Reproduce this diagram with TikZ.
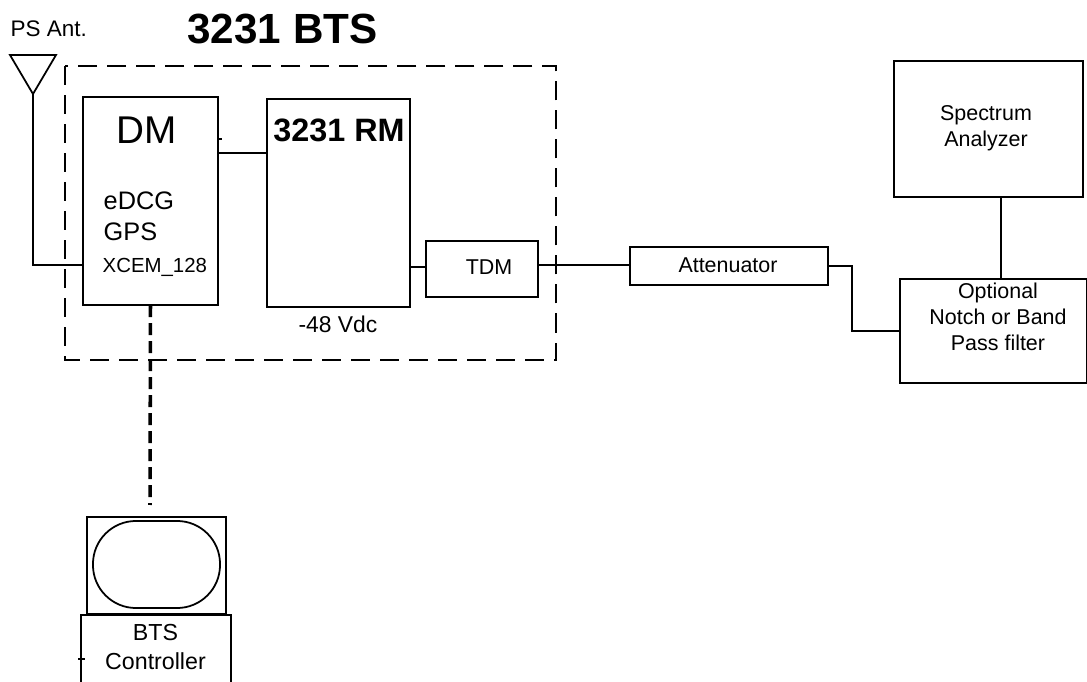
\documentclass[tikz,border=0pt]{standalone}
\usepackage{fontspec}
\setmainfont{Liberation Sans}
\tikzset{
  boxnode/.style={draw,line width=0.5pt,inner sep=0pt,outer sep=0pt},
  wire/.style={line width=0.5pt},
  lab/.style={inner sep=0pt,align=center,font=\fontsize{6.1}{7.4}\selectfont},
}
\begin{document}
\begin{tikzpicture}[x=0.01cm,y=-0.01cm]
\useasboundingbox (0,0) rectangle (1087,682);
\draw[line width=0.6pt,dash pattern=on 0.19cm off 0.1cm] (65,66) rectangle (556,360);
\node[boxnode,minimum width=1.35cm,minimum height=2.08cm] (dm) at (150.5,201) {};
\node[boxnode,minimum width=1.43cm,minimum height=2.08cm] (rm) at (338.5,203) {};
\node[boxnode,minimum width=1.12cm,minimum height=0.56cm] (tdm) at (482,269) {};
\node[boxnode,minimum width=1.98cm,minimum height=0.38cm] (att) at (729,266) {};
\node[boxnode,minimum width=1.87cm,minimum height=1.04cm] (filter) at (993.5,331) {};
\node[boxnode,minimum width=1.89cm,minimum height=1.36cm] (sa) at (988.5,129) {};
\node[boxnode,minimum width=1.39cm,minimum height=0.97cm] (mon) at (156.5,565.5) {};
\node[boxnode,rounded corners=0.43cm,minimum width=1.27cm,minimum height=0.87cm] (screen) at (156.5,564.5) {};
\draw[wire] (81,682) |- (231,615) -- (231,682);
\draw[wire] (78,659) -- (85,659);
\coordinate (antl) at (10,55);
\coordinate (antr) at (56,55);
\coordinate (antp) at (33,94);
\draw[wire] (antl) -- (antr) -- (antp) -- cycle;
\fill (antp) circle (0.025);
\coordinate (dmin) at (83,265);
\draw[wire] (antp) |- (dmin);
\coordinate (dmout) at (218,153);
\draw[wire] (dmout) -- (dmout -| rm.west);
\draw[wire] (218,139) -- (222,139);
\coordinate (rmout) at (410,267);
\draw[wire] (rmout) -- (rmout -| tdm.west);
\coordinate (tdmout) at (538,265);
\draw[wire] (tdmout) -- (tdmout -| att.west);
\draw[wire] (att.east) -- (852,266) |- (filter.west);
\coordinate (satap) at (1001,197);
\draw[wire] (satap) -- (satap |- filter.north);
\coordinate (ctlend) at (150,505);
\draw[line width=1pt,dash pattern=on 0.12cm off 0.06cm] (dm.south) -- (ctlend);
\node[lab,font=\fontsize{12}{14}\selectfont\bfseries] (title) at (282.5,29.5) {3231 BTS};
\node[lab,anchor=west,font=\fontsize{6.4}{8}\selectfont] (ant) at (10,29) {PS Ant.};
\node[lab,font=\fontsize{11}{13}\selectfont] (dmlab) at (147,130) {DM};
\node[lab,anchor=west,font=\fontsize{7.2}{9}\selectfont] (edcg) at (103,201) {eDCG};
\node[lab,anchor=west,font=\fontsize{7.2}{9}\selectfont] (gps) at (103,232) {GPS};
\node[lab,anchor=west,font=\fontsize{5.8}{7}\selectfont] (xcem) at (102,267) {XCEM\_128};
\node[lab,font=\fontsize{9.2}{11}\selectfont\bfseries] (rmlab) at (339,130) {3231 RM};
\node[lab,font=\fontsize{6.5}{8}\selectfont] (vdc) at (338,324) {-48 Vdc};
\node[lab] (tdmlab) at (489,267) {TDM};
\node[lab] (attlab) at (728,265) {Attenuator};
\node[lab] (filterlab) at (998,317) {Optional\\Notch or Band\\Pass filter};
\node[lab] (salab) at (986,128) {Spectrum\\Analyzer};
\node[lab,font=\fontsize{6.6}{8.5}\selectfont] (ctllab) at (155.5,647) {BTS\\Controller};
\end{tikzpicture}
\end{document}
